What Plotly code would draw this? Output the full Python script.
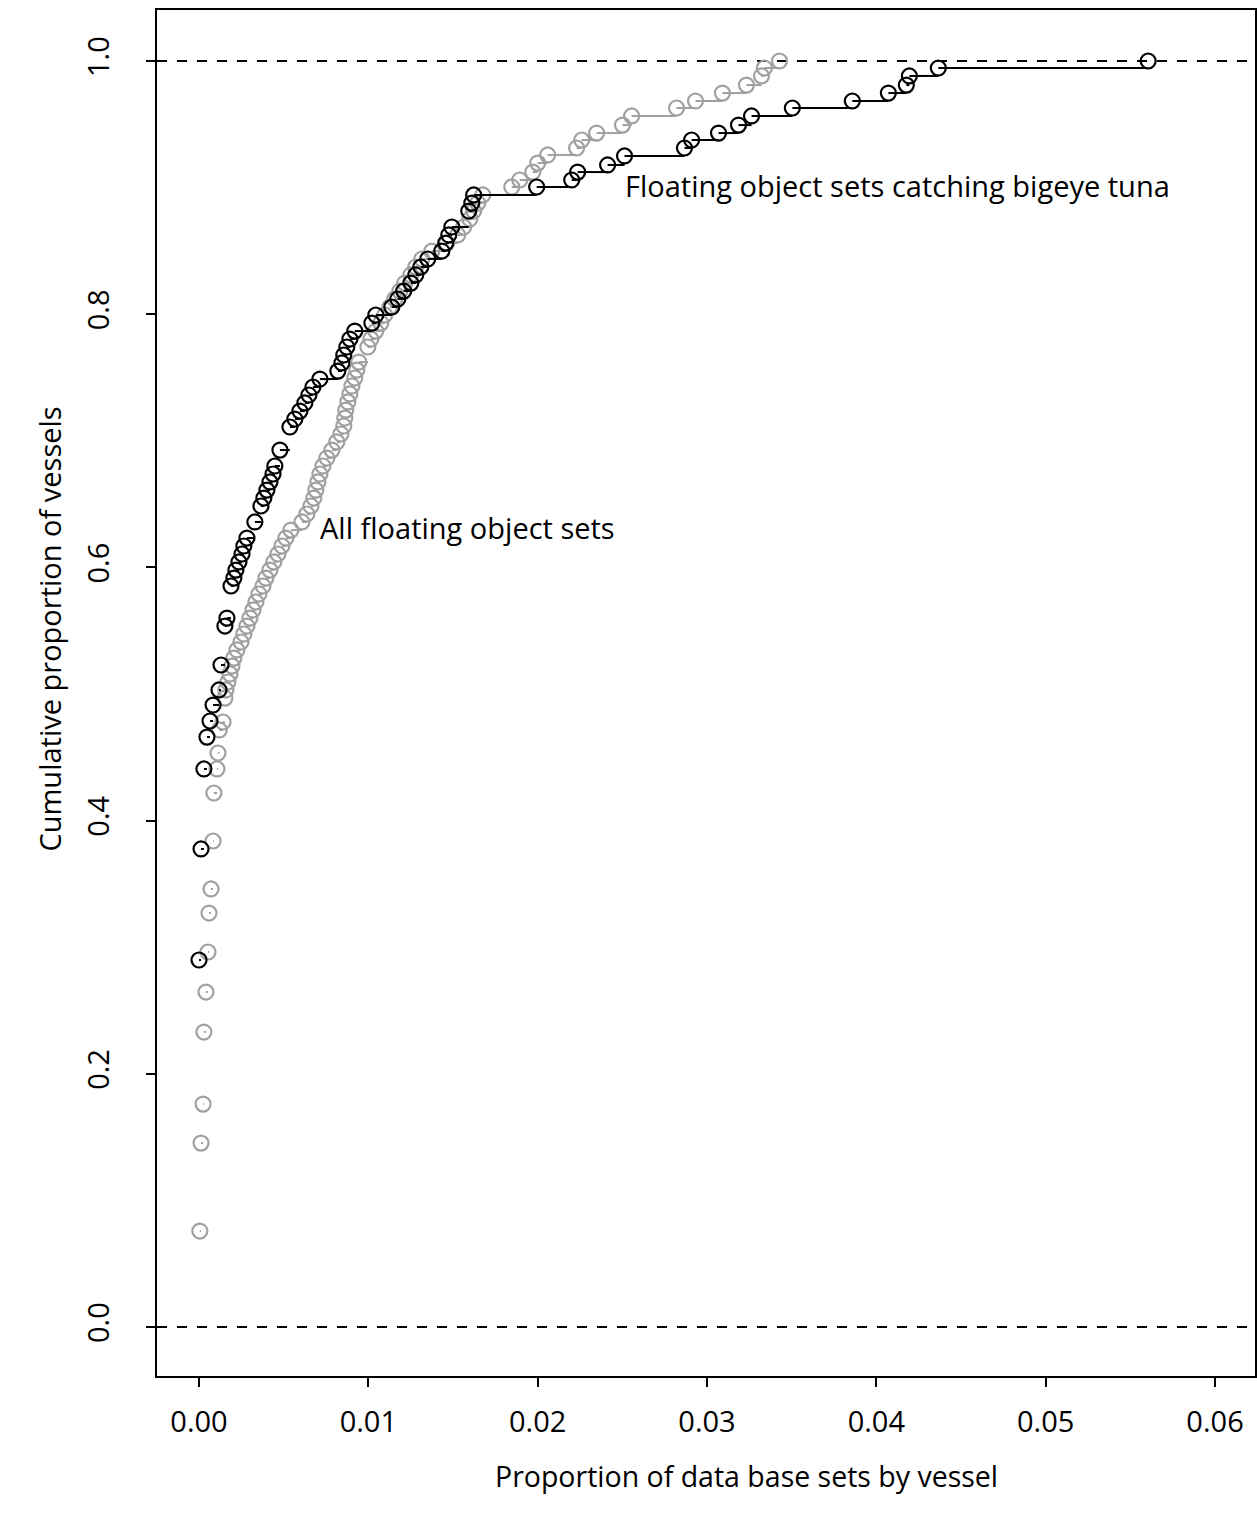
import plotly.graph_objects as go

# ECDF points: all floating-object sets (grey)
all_x = [0.00005, 0.00012, 0.00024, 0.00029, 0.00041, 0.00053, 0.00059, 0.00071, 0.00083, 0.00088,
         0.00106, 0.00112, 0.00120, 0.00142, 0.00153, 0.00159, 0.00171, 0.00183, 0.00195, 0.00206,
         0.00224, 0.00248, 0.00265, 0.00283, 0.00301, 0.00319, 0.00336, 0.00354, 0.00378, 0.00395,
         0.00419, 0.00442, 0.00466, 0.00490, 0.00513, 0.00543, 0.00608, 0.00637, 0.00661, 0.00678,
         0.00690, 0.00702, 0.00714, 0.00732, 0.00755, 0.00785, 0.00814, 0.00838, 0.00855, 0.00861,
         0.00867, 0.00879, 0.00891, 0.00903, 0.00920, 0.00932, 0.00944, 0.00997, 0.01015, 0.01044,
         0.01074, 0.01097, 0.01127, 0.01156, 0.01186, 0.01215, 0.01251, 0.01280, 0.01316, 0.01375,
         0.01463, 0.01528, 0.01563, 0.01599, 0.01622, 0.01646, 0.01676, 0.01847, 0.01894, 0.01971,
         0.02000, 0.02059, 0.02230, 0.02260, 0.02348, 0.02501, 0.02555, 0.02820, 0.02932, 0.03091,
         0.03233, 0.03322, 0.03339, 0.03428]
all_y = [0.0758, 0.1453, 0.1761, 0.2330, 0.2646, 0.2962, 0.3270, 0.3460, 0.3839, 0.4218,
         0.4408, 0.4534, 0.4716, 0.4779, 0.4968, 0.5032, 0.5095, 0.5158, 0.5221, 0.5284,
         0.5348, 0.5411, 0.5474, 0.5537, 0.5600, 0.5664, 0.5727, 0.5790, 0.5853, 0.5916,
         0.5979, 0.6043, 0.6106, 0.6169, 0.6232, 0.6295, 0.6359, 0.6422, 0.6485, 0.6548,
         0.6611, 0.6675, 0.6738, 0.6801, 0.6864, 0.6927, 0.6991, 0.7054, 0.7117, 0.7180,
         0.7243, 0.7307, 0.7370, 0.7433, 0.7496, 0.7559, 0.7622, 0.7741, 0.7804, 0.7867,
         0.7930, 0.7994, 0.8057, 0.8120, 0.8183, 0.8246, 0.8310, 0.8373, 0.8436, 0.8499,
         0.8562, 0.8626, 0.8689, 0.8752, 0.8815, 0.8878, 0.8942, 0.9005, 0.9060, 0.9123,
         0.9194, 0.9258, 0.9313, 0.9376, 0.9431, 0.9494, 0.9566, 0.9629, 0.9684, 0.9747,
         0.9810, 0.9882, 0.9945, 1.0000]

# ECDF points: floating-object sets catching bigeye tuna (black)
bet_x = [0.00000, 0.00012, 0.00029, 0.00047, 0.00065, 0.00083, 0.00118, 0.00130, 0.00153, 0.00165,
         0.00189, 0.00206, 0.00218, 0.00236, 0.00254, 0.00265, 0.00283, 0.00330, 0.00366, 0.00383,
         0.00401, 0.00419, 0.00437, 0.00448, 0.00478, 0.00537, 0.00566, 0.00596, 0.00625, 0.00649,
         0.00673, 0.00714, 0.00820, 0.00844, 0.00855, 0.00873, 0.00891, 0.00920, 0.01021, 0.01044,
         0.01139, 0.01174, 0.01209, 0.01251, 0.01280, 0.01310, 0.01351, 0.01434, 0.01457, 0.01475,
         0.01493, 0.01593, 0.01611, 0.01622, 0.01994, 0.02201, 0.02236, 0.02413, 0.02513, 0.02867,
         0.02909, 0.03068, 0.03186, 0.03263, 0.03504, 0.03858, 0.04071, 0.04177, 0.04195, 0.04366,
         0.05605]
bet_y = [0.2899, 0.3776, 0.4408, 0.4660, 0.4787, 0.4913, 0.5032, 0.5229, 0.5537, 0.5600,
         0.5853, 0.5916, 0.5979, 0.6043, 0.6106, 0.6169, 0.6232, 0.6359, 0.6485, 0.6548,
         0.6611, 0.6675, 0.6738, 0.6801, 0.6927, 0.7109, 0.7172, 0.7235, 0.7299, 0.7362,
         0.7425, 0.7488, 0.7551, 0.7615, 0.7678, 0.7741, 0.7804, 0.7867, 0.7930, 0.7994,
         0.8057, 0.8120, 0.8183, 0.8246, 0.8310, 0.8373, 0.8436, 0.8499, 0.8562, 0.8626,
         0.8689, 0.8815, 0.8878, 0.8942, 0.9005, 0.9060, 0.9123, 0.9179, 0.9250, 0.9313,
         0.9376, 0.9431, 0.9494, 0.9566, 0.9629, 0.9684, 0.9747, 0.9810, 0.9882, 0.9945,
         1.0000]

x_ticks = [0.00, 0.01, 0.02, 0.03, 0.04, 0.05, 0.06]
x_tick_labels = ["0.00", "0.01", "0.02", "0.03", "0.04", "0.05", "0.06"]
y_ticks = [0.0, 0.2, 0.4, 0.6, 0.8, 1.0]
y_tick_labels = ["0.0", "0.2", "0.4", "0.6", "0.8", "1.0"]

GREY = "#a0a0a0"
BLACK = "#000000"
FONT = "Open Sans"


def step_segments(xs, ys):
    sx, sy = [], []
    for i in range(len(xs) - 1):
        sx += [xs[i], xs[i + 1], None]
        sy += [ys[i], ys[i], None]
    return sx, sy


fig = go.Figure()

for xs, ys, col in [(all_x, all_y, GREY), (bet_x, bet_y, BLACK)]:
    sx, sy = step_segments(xs, ys)
    fig.add_trace(go.Scatter(x=sx, y=sy, mode="lines", line=dict(color=col, width=2),
                             hoverinfo="skip", showlegend=False))
    fig.add_trace(go.Scatter(x=xs, y=ys, mode="markers",
                             marker=dict(symbol="circle-open", size=15, color=col,
                                         line=dict(color=col, width=2.2)),
                             showlegend=False))

for h in [0.0, 1.0]:
    fig.add_hline(y=h, line=dict(color="black", width=1.8, dash="10px,10px"), layer="below")

fig.add_annotation(x=0.04124, y=0.9013, text="Floating object sets catching bigeye tuna",
                   showarrow=False, font=dict(family=FONT, size=29, color="black"))
fig.add_annotation(x=0.01587, y=0.6319, text="All floating object sets",
                   showarrow=False, font=dict(family=FONT, size=29, color="black"))

# axis titles
fig.add_annotation(xref="paper", yref="paper", x=0.5369, y=-0.0886,
                   text="Proportion of data base sets by vessel", showarrow=False,
                   font=dict(family=FONT, size=28.5, color="black"))
fig.add_annotation(xref="paper", yref="paper", x=-0.1174, y=0.5469, textangle=-90,
                   text="Cumulative proportion of vessels", showarrow=False,
                   font=dict(family=FONT, size=29, color="black"))

fig.update_xaxes(range=[-0.00248, 0.06236], tickvals=x_ticks, ticktext=x_tick_labels,
                 showgrid=False, zeroline=False, showline=True, linecolor="black",
                 linewidth=2, mirror=True, ticks="outside", ticklen=9, tickwidth=2,
                 tickcolor="black", tickfont=dict(family=FONT, size=29, color="black"),
                 ticklabelstandoff=10, automargin=False)
fig.update_yaxes(range=[-0.0387, 1.0403], tickvals=y_ticks, ticktext=y_tick_labels,
                 showgrid=False, zeroline=False, showline=True, linecolor="black",
                 linewidth=2, mirror=True, ticks="outside", ticklen=9, tickwidth=2,
                 tickcolor="black", tickangle=-90,
                 tickfont=dict(family=FONT, size=29, color="black"),
                 ticklabelstandoff=25, automargin=False)

fig.update_layout(width=1257, height=1516, margin=dict(l=157, r=2, t=10, b=140, autoexpand=False),
                  plot_bgcolor="white", paper_bgcolor="white", showlegend=False)

# remove the default page margin so the figure fills the window exactly
fig.write_html("out.html", config={"displayModeBar": False},
               post_script="document.body.style.margin='0';document.body.style.overflow='hidden';")
